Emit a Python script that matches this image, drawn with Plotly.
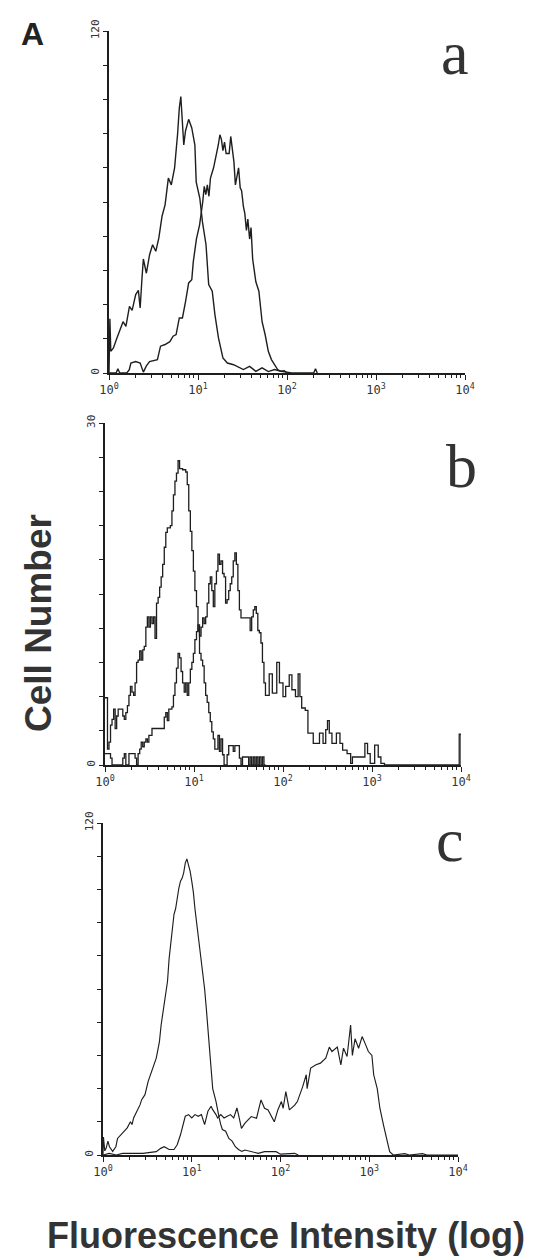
import numpy as np
import plotly.graph_objects as go

# ---------------- data (log10 fluorescence channel position, cell count) ----------------
# Panel a
a_ctrl_log = [0.0, 0.01, 0.02, 0.05, 0.08, 0.105, 0.13, 0.158, 0.19, 0.21, 0.23, 0.26, 0.28, 0.30, 0.33, 0.35,
              0.37, 0.386, 0.42, 0.44, 0.456, 0.49, 0.526, 0.56, 0.58, 0.596, 0.63, 0.667, 0.70, 0.737, 0.77,
              0.79, 0.807, 0.825, 0.84, 0.86, 0.895, 0.93, 0.965, 0.98, 1.02, 1.05, 1.09, 1.12, 1.16, 1.19,
              1.23, 1.28, 1.33, 1.40, 1.44, 1.51, 1.58, 1.65, 1.72, 1.79, 1.86, 1.93, 2.0, 2.05, 2.3, 2.32, 2.34]
a_ctrl_n = [0, 19, 7.6, 8.8, 11.5, 13.5, 16, 18, 16.4, 20, 23.4, 22, 25, 27.5, 29, 22.8,
            33, 40, 35, 39, 41.5, 45, 42.7, 47.4, 52, 55, 59, 68.4, 66, 72, 83.6,
            93, 97, 89.5, 80, 85, 89, 86, 80, 67, 61.4, 53, 45, 31, 28.7, 20.5,
            12.3, 5.3, 3.5, 2.9, 2.3, 1.2, 2.3, 0.6, 1.8, 0.5, 1.2, 0.6, 0.3, 0, 0, 1.5, 0]

a_trt_log = [0.0, 0.08, 0.10, 0.12, 0.2, 0.228, 0.246, 0.30, 0.35, 0.37, 0.386, 0.42, 0.456, 0.544, 0.579,
             0.63, 0.684, 0.72, 0.754, 0.79, 0.825, 0.86, 0.895, 0.93, 0.947, 0.982, 1.018, 1.053, 1.07,
             1.088, 1.105, 1.123, 1.14, 1.175, 1.21, 1.228, 1.246, 1.263, 1.28, 1.298, 1.316, 1.35, 1.368,
             1.386, 1.404, 1.42, 1.456, 1.474, 1.49, 1.51, 1.526, 1.544, 1.56, 1.58, 1.596, 1.614, 1.65,
             1.684, 1.72, 1.754, 1.79, 1.825, 1.86, 1.895, 1.93, 1.97, 2.0]
a_trt_n = [0, 0, 1.5, 0, 0, 1.2, 3.5, 4, 3.5, 1.5, 0.3, 2.5, 4, 4.7, 9.4,
           10, 11, 12.9, 13.5, 19.3, 19.3, 25, 31.6, 32.7, 39, 47, 52, 60, 65.5,
           62.6, 66, 62, 68.4, 72, 77, 80, 83.6, 82, 78, 81, 77, 77, 83,
           78, 74, 66, 72, 65, 64, 58.5, 56, 50, 54, 47, 51, 40, 32,
           28.7, 18, 13.5, 7.6, 4.7, 2.9, 1.2, 0.6, 0.8, 0]

# Panel b
b_ctrl_log = [0.0, 0.028, 0.045, 0.062, 0.079, 0.097, 0.114, 0.131, 0.148, 0.183, 0.2, 0.217, 0.234, 0.252,
              0.269, 0.286, 0.303, 0.321, 0.338, 0.355, 0.372, 0.39, 0.407, 0.424, 0.441, 0.459, 0.476, 0.493,
              0.51, 0.528, 0.545, 0.562, 0.579, 0.597, 0.614, 0.631, 0.648, 0.666, 0.683, 0.7, 0.734, 0.752,
              0.769, 0.786, 0.803, 0.821, 0.838, 0.872, 0.907, 0.924, 0.941, 0.959, 0.976, 0.993, 1.01, 1.028,
              1.045, 1.062, 1.079, 1.097, 1.114, 1.131, 1.148, 1.166, 1.183, 1.2, 1.217, 1.234, 1.269, 1.286,
              1.303, 1.321, 1.338, 1.372, 1.39, 1.441, 1.459, 1.51, 1.528, 1.545, 1.579, 1.614, 1.631, 1.648,
              1.666, 1.683, 1.7, 1.717, 1.734, 1.752, 1.769, 1.786, 1.803]
b_ctrl_n = [5.9, 1.4, 2, 3.5, 4, 4.9, 3.2, 4.3, 4.9, 4.9, 4.3, 4, 4.6, 5.2,
            6.1, 6.9, 6.4, 6.1, 7.2, 9, 9.2, 10, 9.2, 10.1, 10.4, 12.1, 13, 12.1,
            13, 12.4, 13, 11.1, 14.2, 14.7, 15.6, 16.5, 17.6, 19.1, 20.4, 20.8, 21, 22.3,
            23.7, 24.9, 25.6, 26.7, 26, 25.9, 25.7, 24.6, 22.3, 20.5, 18.8, 17, 15.3, 13.9,
            11.8, 9.8, 9.2, 8.7, 7.2, 6.1, 5.5, 4.6, 3.8, 2.9, 2.3, 1.4, 2.6, 1.2,
            2.3, 0.9, 0, 0.9, 1.7, 1.2, 1.7, 0.6, 0, 0.7, 0.7, 0, 0.7, 0,
            0.7, 0, 0.7, 0, 0.7, 0, 0.7, 0, 0]

b_trt_log = [0.0, 0.045, 0.062, 0.079, 0.183, 0.2, 0.217, 0.234, 0.269, 0.303, 0.338, 0.355, 0.372, 0.39,
             0.407, 0.424, 0.441, 0.459, 0.476, 0.493, 0.528, 0.562, 0.614, 0.648, 0.666, 0.683, 0.7, 0.717,
             0.752, 0.769, 0.786, 0.803, 0.821, 0.838, 0.855, 0.872, 0.89, 0.907, 0.924, 0.941, 0.959, 0.976,
             0.993, 1.01, 1.028, 1.045, 1.062, 1.079, 1.097, 1.114, 1.131, 1.148, 1.166, 1.183, 1.2, 1.217,
             1.234, 1.252, 1.269, 1.286, 1.303, 1.321, 1.338, 1.355, 1.372, 1.39, 1.407, 1.424, 1.441, 1.459,
             1.476, 1.493, 1.51, 1.528, 1.614, 1.631, 1.648, 1.666, 1.683, 1.7, 1.717, 1.734, 1.752, 1.769,
             1.786, 1.803, 1.845, 1.88, 1.93, 1.96, 2.0, 2.03, 2.07, 2.10, 2.14, 2.17, 2.19, 2.21, 2.25,
             2.28, 2.31, 2.34, 2.40, 2.41, 2.45, 2.48, 2.50, 2.52, 2.55, 2.60, 2.64, 2.67, 2.72, 2.76, 2.78,
             2.88, 2.92, 2.95, 2.98, 3.03, 3.07, 3.10, 3.14, 3.97, 3.98, 3.99, 4.0]
b_trt_n = [1, 1, 0.6, 0, 0, 0.6, 1, 0, 1, 1, 0.6, 0, 1, 1.4,
           2, 1.6, 2, 2.3, 2, 2.6, 3.2, 3.2, 3.2, 3.2, 4.2, 4.6, 3.9, 4.9,
           5.1, 6.1, 7.2, 8.5, 9.8, 9.4, 8.2, 7.2, 6.4, 7.2, 6.1, 7.2, 8.4, 9,
           9.8, 11, 11.7, 12.3, 11.3, 12.1, 12.9, 12.4, 13, 14.2, 15.9, 16.5, 15.3, 13.9,
           15.9, 17, 18.5, 17.6, 17.9, 16.8, 16.5, 14.2, 14.5, 15.3, 15.9, 16.5, 17.9, 18.6,
           17.6, 15.3, 13.6, 12.9, 12.9, 11.8, 13, 13.6, 13.9, 13.3, 11.8, 11.6, 10.7, 9,
           7.2, 6.1, 8, 6.3, 9, 7.2, 6, 6.9, 7.9, 6.6, 6, 8, 6, 5, 4.8,
           2.8, 2.8, 1.9, 1.9, 2.8, 1.9, 3.1, 3.9, 2.8, 1.9, 2.8, 1.9, 1.3, 1, 0.15, 0.7,
           0.7, 1.9, 1, 0.15, 1.75, 0.7, 0.15, 0, 0, 2.7, 2.7, 0]

# Panel c
c_ctrl_log = [0.0, 0.005, 0.02, 0.036, 0.055, 0.073, 0.109, 0.145, 0.164, 0.2, 0.236, 0.273, 0.309, 0.327,
              0.345, 0.382, 0.418, 0.436, 0.473, 0.509, 0.545, 0.564, 0.6, 0.618, 0.636, 0.655, 0.673, 0.691,
              0.709, 0.727, 0.745, 0.764, 0.782, 0.8, 0.818, 0.836, 0.855, 0.873, 0.891, 0.909, 0.927, 0.945,
              0.964, 0.982, 1.0, 1.018, 1.036, 1.073, 1.109, 1.145, 1.164, 1.182, 1.2, 1.218, 1.236, 1.273,
              1.291, 1.309, 1.327, 1.345, 1.382, 1.418, 1.455, 1.491, 1.527, 1.564, 1.6, 1.67, 1.75, 1.82,
              1.95, 2.0, 2.16, 2.2]
c_ctrl_n = [0, 6.5, 1.5, 2.5, 5, 3, 1.3, 3, 6, 7.3, 8.5, 9.8, 12, 11,
            13.4, 15.8, 18.2, 20, 21.8, 26.6, 30, 31.4, 35, 38, 41, 47, 50.7, 55.5,
            58, 62.8, 71, 77, 83, 87, 89, 93, 96.5, 99, 100, 102, 105.5, 107,
            105, 102.5, 99, 95, 89, 79.6, 71, 60, 53, 46, 38.7, 31.4, 24, 19.4,
            15.8, 13.4, 11, 9.2, 8.6, 6, 5, 3, 2, 1.3, 1.8, 1.2, 0.6, 1.2,
            1.2, 0.3, 0.6, 0]

c_trt_log = [0.0, 0.07, 0.15, 0.22, 0.3, 0.45, 0.6, 0.65, 0.69, 0.745, 0.8, 0.836, 0.873, 0.909, 0.927,
             0.964, 1.0, 1.036, 1.073, 1.109, 1.145, 1.164, 1.182, 1.218, 1.236, 1.273, 1.291, 1.327, 1.364,
             1.4, 1.436, 1.473, 1.509, 1.527, 1.56, 1.60, 1.67, 1.73, 1.78, 1.82, 1.86, 1.93, 1.97, 2.01,
             2.03, 2.06, 2.10, 2.16, 2.19, 2.25, 2.29, 2.30, 2.34, 2.40, 2.45, 2.51, 2.55, 2.58, 2.64, 2.68,
             2.71, 2.75, 2.79, 2.81, 2.84, 2.88, 2.92, 2.96, 2.99, 3.03, 3.05, 3.09, 3.12, 3.16, 3.20, 3.23,
             3.27, 3.4, 3.45, 3.6, 3.65, 4.0]
c_trt_n = [0, 0.6, 0, 0.6, 0.6, 0.6, 1.2, 2.4, 3, 2, 2, 3.7, 7.3, 12, 14,
           14.6, 13.4, 14.6, 14, 14.6, 11, 13.4, 15.8, 17.6, 16.4, 14.6, 13.4, 14.6, 13.4,
           14, 14.6, 13.4, 17, 14.6, 9.6, 11.5, 13.9, 13.3, 19.9, 16.9, 16.3, 12, 16.3, 19.3,
           16.9, 22.9, 16.3, 18, 19.3, 24.7, 29, 24, 31.4, 32.6, 33.2, 35, 39, 37.4, 39, 32.6,
           38.6, 35.6, 47, 36, 42, 38.6, 42.8, 39.8, 37.4, 36, 29, 24, 16.9, 10.9, 4.8, 1.2,
           0, 0.5, 0, 0.5, 0, 0]

y_max = [120, 30, 120]
x_tick_labels = ["10<sup>0</sup>", "10<sup>1</sup>", "10<sup>2</sup>", "10<sup>3</sup>", "10<sup>4</sup>"]
panel_letters = ["a", "b", "c"]

# ---------------- layout geometry (pixels) ----------------
W, H = 549, 1257
# (left, right, top, bottom) of each plot area in pixels
boxes = [(101, 457, 23, 365), (97, 453, 415, 757), (95, 450, 815, 1147)]

ink = "#1e1e1e"
fig = go.Figure()

series = [
    [(a_ctrl_log, a_ctrl_n), (a_trt_log, a_trt_n)],
    [(b_ctrl_log, b_ctrl_n), (b_trt_log, b_trt_n)],
    [(c_ctrl_log, c_ctrl_n), (c_trt_log, c_trt_n)],
]
shapes_line = ["linear", "hv", "linear"]
widths = [1.4, 1.3, 1.15]

major_vals = [1, 10, 100, 1000, 10000]
minor_vals = [k * 10 ** d for d in range(4) for k in range(2, 10)]

for i, (box, ym) in enumerate(zip(boxes, y_max)):
    l, r, t, b = box
    xa = "xaxis" if i == 0 else f"xaxis{i+1}"
    ya = "yaxis" if i == 0 else f"yaxis{i+1}"
    xr = "x" if i == 0 else f"x{i+1}"
    yr = "y" if i == 0 else f"y{i+1}"
    for lg, n in series[i]:
        fig.add_trace(go.Scatter(
            x=10 ** np.array(lg, dtype=float), y=n, mode="lines",
            line=dict(color=ink, width=widths[i], shape=shapes_line[i]),
            xaxis=xr, yaxis=yr, showlegend=False, hoverinfo="skip"))
    fig.layout[xa] = dict(
        type="log", range=[0, 4], domain=[l / W, r / W], anchor=yr, automargin=False,
        showline=True, linecolor=ink, linewidth=1.5, showgrid=False, zeroline=False,
        ticks="outside", ticklen=5, tickwidth=1.3, tickcolor=ink,
        tickvals=major_vals, ticktext=x_tick_labels,
        tickfont=dict(family="DejaVu Sans Mono", size=12, color="#333333"),
        minor=dict(tickvals=minor_vals, ticks="outside", ticklen=3, tickwidth=1, tickcolor=ink, showgrid=False),
    )
    fig.layout[ya] = dict(
        range=[0, ym], domain=[1 - b / H, 1 - t / H], anchor=xr, automargin=False,
        showline=True, linecolor=ink, linewidth=1.5, showgrid=False, zeroline=False,
        ticks="outside", ticklen=4, tickwidth=1.2, tickcolor=ink,
        tickvals=[ym * k / 10 for k in range(11)],
        ticktext=["0"] + [""] * 9 + [str(ym)],
        tickangle=-90,
        tickfont=dict(family="DejaVu Sans Mono", size=11, color="#333333"),
    )

annotations = []
letter_pos = [(447, 45), (453, 458), (442, 832)]
for letter, (px, py) in zip(panel_letters, letter_pos):
    annotations.append(dict(text=letter, x=px / W, y=1 - py / H, xref="paper", yref="paper",
                            xanchor="center", yanchor="middle", showarrow=False,
                            font=dict(family="Liberation Serif", size=62, color="#333333")))
annotations.append(dict(text="<b>A</b>", x=24 / W, y=1 - 26 / H, xref="paper", yref="paper",
                        xanchor="center", yanchor="middle", showarrow=False,
                        font=dict(family="Liberation Sans", size=32, color="#222222")))
annotations.append(dict(text="<b>Cell Number</b>", x=30 / W, y=1 - 615 / H, xref="paper", yref="paper",
                        xanchor="center", yanchor="middle", showarrow=False, textangle=-90,
                        font=dict(family="Liberation Sans", size=37, color="#333333")))
annotations.append(dict(text="<b>Fluorescence Intensity (log)</b>", x=278 / W, y=1 - 1227 / H,
                        xref="paper", yref="paper", xanchor="center", yanchor="middle", showarrow=False,
                        font=dict(family="Liberation Sans", size=36, color="#333333")))

fig.update_layout(width=W, height=H, margin=dict(l=0, r=0, t=0, b=0, autoexpand=False),
                  paper_bgcolor="white", plot_bgcolor="white", annotations=annotations)

fig.write_html("out.html")
